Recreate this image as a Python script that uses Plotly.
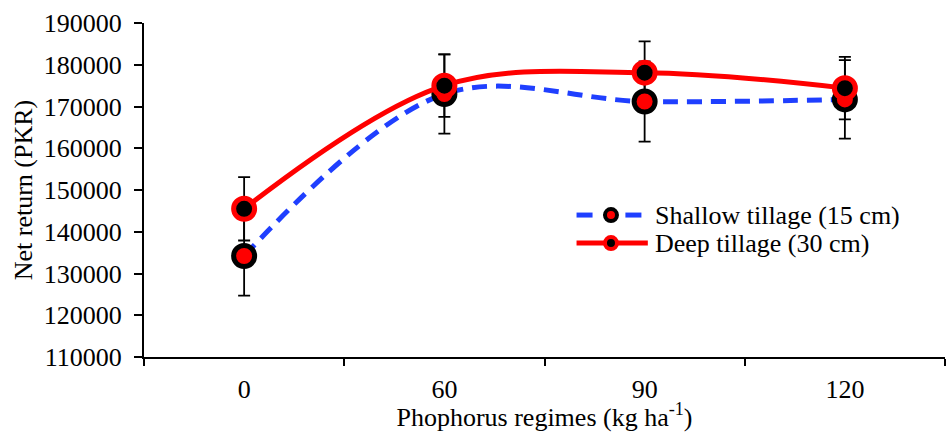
import plotly.graph_objects as go

# Phosphorus levels (kg/ha) shown as categories
phosphorus = ["0", "60", "90", "120"]

# Net return (PKR) and its error margins for each tillage depth
shallow_return = [134200, 173000, 171200, 171700]
shallow_err = [9500, 9500, 9600, 9400]
deep_return = [145500, 175000, 178100, 174400]
deep_err = [7600, 7500, 7500, 7500]

series_names = ["Shallow tillage (15 cm)", "Deep tillage (30 cm)"]

RED = "#ff0000"
BLUE = "#1f3fff"
SERIF = "Liberation Serif"


def serif_font(size=26):
    return dict(family=SERIF, size=size, color="black")


fig = go.Figure()

# error bars first so that lines and markers sit on top of them
for vals, errs in ((shallow_return, shallow_err), (deep_return, deep_err)):
    fig.add_trace(go.Scatter(
        x=phosphorus, y=vals, mode="markers",
        marker=dict(size=2, color="rgba(0,0,0,0)"),
        error_y=dict(type="data", array=errs, visible=True,
                     color="black", thickness=1.8, width=6),
        showlegend=False, hoverinfo="skip",
    ))

fig.add_trace(go.Scatter(
    x=phosphorus, y=shallow_return, name=series_names[0],
    mode="lines+markers",
    line=dict(color=BLUE, width=5, dash="15px,9px", shape="spline", smoothing=1),
    marker=dict(size=21, color=RED, line=dict(color="black", width=5)),
    showlegend=False,
))
fig.add_trace(go.Scatter(
    x=phosphorus, y=deep_return, name=series_names[1],
    mode="lines+markers",
    line=dict(color=RED, width=5, shape="spline", smoothing=1),
    marker=dict(size=21, color="black", line=dict(color=RED, width=5)),
    showlegend=False,
))

# legend drawn inside the plot area
shapes = []
annotations = []
legend_rows = [
    (0.425, series_names[0], BLUE, RED, "black", True),
    (0.341, series_names[1], RED, "black", RED, False),
]
for ypos, label, line_col, fill_col, edge_col, split in legend_rows:
    if split:
        segs = [(0.540, 0.560), (0.601, 0.621)]
    else:
        segs = [(0.540, 0.629)]
    for a, b in segs:
        shapes.append(dict(type="line", xref="paper", yref="paper",
                           x0=a, x1=b, y0=ypos, y1=ypos,
                           line=dict(color=line_col, width=5)))
    shapes.append(dict(type="circle", xref="paper", yref="paper",
                       xsizemode="pixel", ysizemode="pixel",
                       xanchor=0.583, yanchor=ypos,
                       x0=-6, x1=6, y0=-6, y1=6,
                       fillcolor=fill_col, line=dict(color=edge_col, width=4)))
    annotations.append(dict(xref="paper", yref="paper", x=0.636, y=ypos,
                            xanchor="left", yanchor="middle", text=label,
                            showarrow=False, font=serif_font()))

fig.update_layout(
    width=946, height=432,
    margin=dict(l=144, r=1, t=23, b=75),
    paper_bgcolor="white", plot_bgcolor="white",
    font=serif_font(),
    shapes=shapes, annotations=annotations,
    xaxis=dict(
        type="category", categoryorder="array", categoryarray=phosphorus,
        range=[-0.5, 3.5], tickson="boundaries",
        ticks="outside", ticklen=7, tickwidth=2, tickcolor="black",
        showline=True, linewidth=2, linecolor="black",
        showgrid=False, zeroline=False,
        tickfont=serif_font(), ticklabelstandoff=8,
        title=dict(text="Phophorus regimes (kg ha<sup>-1</sup>)",
                   font=serif_font(), standoff=3),
    ),
    yaxis=dict(
        range=[110000, 190000], dtick=10000, tickformat="d",
        ticks="outside", ticklen=8, tickwidth=2, tickcolor="black",
        showline=True, linewidth=2, linecolor="black",
        showgrid=False, zeroline=False,
        tickfont=serif_font(), ticklabelstandoff=7,
        title=dict(text="Net return (PKR)", font=serif_font(), standoff=4),
    ),
)

fig.write_html("out.html")
